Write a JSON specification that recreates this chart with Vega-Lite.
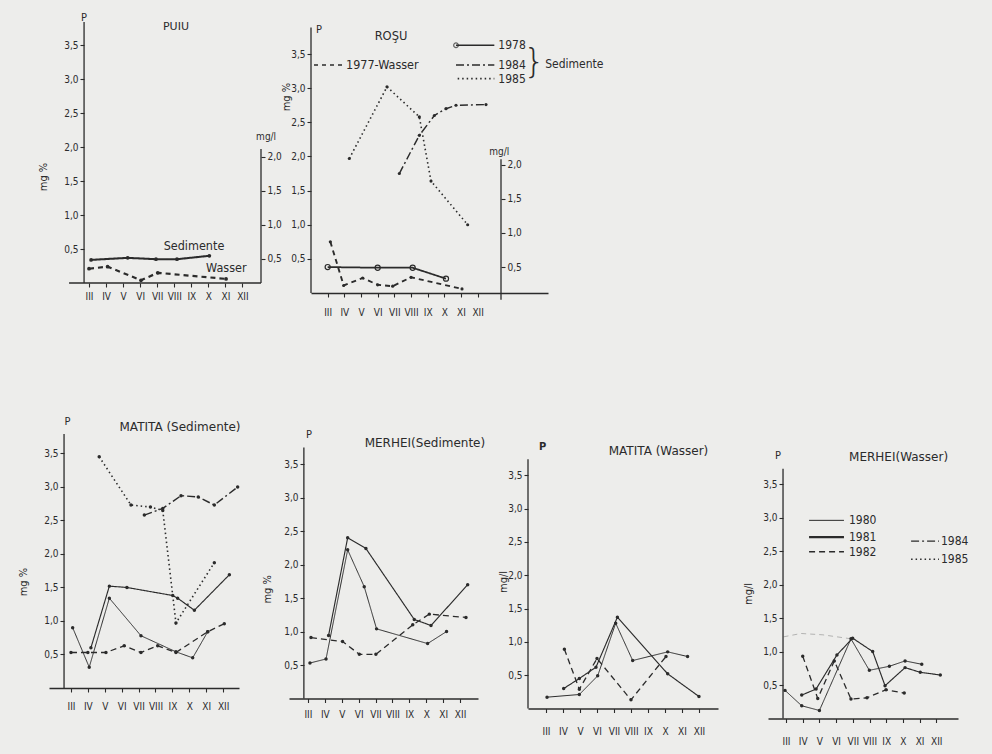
{
"$schema": "https://vega.github.io/schema/vega-lite/v6.json",
"background": "#ededeb",
"padding": {"left": 17, "top": 11, "right": 24, "bottom": 10},
"datasets": {
"puiu": [
{"series":"Sedimente","m":3.12,"v":0.34},{"series":"Sedimente","m":5.27,"v":0.37},{"series":"Sedimente","m":6.93,"v":0.35},{"series":"Sedimente","m":8.16,"v":0.35},{"series":"Sedimente","m":10.06,"v":0.40},
{"series":"Wasser","m":3.0,"v":0.21},{"series":"Wasser","m":4.09,"v":0.24},{"series":"Wasser","m":6.05,"v":0.04},{"series":"Wasser","m":7.03,"v":0.15},{"series":"Wasser","m":11.04,"v":0.06}
],
"rosu": [
{"series":"1978","m":3.0,"v":0.38},{"series":"1978","m":6.0,"v":0.37},{"series":"1978","m":8.1,"v":0.37},{"series":"1978","m":10.1,"v":0.21},
{"series":"1977-Wasser","m":3.16,"v":0.75},{"series":"1977-Wasser","m":3.96,"v":0.11},{"series":"1977-Wasser","m":5.1,"v":0.22},{"series":"1977-Wasser","m":6.0,"v":0.12},{"series":"1977-Wasser","m":6.9,"v":0.10},{"series":"1977-Wasser","m":8.0,"v":0.23},{"series":"1977-Wasser","m":11.06,"v":0.06},
{"series":"1985","m":4.3,"v":1.97},{"series":"1985","m":6.56,"v":3.02},{"series":"1985","m":8.5,"v":2.58},{"series":"1985","m":9.2,"v":1.64},{"series":"1985","m":11.4,"v":1.0},
{"series":"1984","m":7.3,"v":1.75},{"series":"1984","m":8.5,"v":2.31},{"series":"1984","m":9.4,"v":2.60},{"series":"1984","m":10.1,"v":2.70},{"series":"1984","m":10.7,"v":2.75},{"series":"1984","m":12.5,"v":2.76}
],
"mat_sed": [
{"series":"1980","m":3.1,"v":0.90},{"series":"1980","m":4.08,"v":0.31},{"series":"1980","m":5.27,"v":1.34},{"series":"1980","m":7.14,"v":0.78},{"series":"1980","m":9.21,"v":0.54},{"series":"1980","m":10.2,"v":0.45},{"series":"1980","m":11.09,"v":0.84},
{"series":"1981","m":4.18,"v":0.60},{"series":"1981","m":5.27,"v":1.52},{"series":"1981","m":6.31,"v":1.50},{"series":"1981","m":9.02,"v":1.38},{"series":"1981","m":9.31,"v":1.34},{"series":"1981","m":10.3,"v":1.16},{"series":"1981","m":12.37,"v":1.69},
{"series":"1982","m":3.0,"v":0.53},{"series":"1982","m":4.0,"v":0.53},{"series":"1982","m":5.07,"v":0.53},{"series":"1982","m":6.15,"v":0.63},{"series":"1982","m":7.14,"v":0.53},{"series":"1982","m":8.13,"v":0.63},{"series":"1982","m":9.21,"v":0.53},{"series":"1982","m":11.09,"v":0.84},{"series":"1982","m":12.07,"v":0.96},
{"series":"1985","m":4.67,"v":3.45},{"series":"1985","m":6.55,"v":2.73},{"series":"1985","m":7.7,"v":2.70},{"series":"1985","m":8.43,"v":2.65},{"series":"1985","m":9.21,"v":0.97},{"series":"1985","m":11.48,"v":1.87},
{"series":"1984","m":7.34,"v":2.58},{"series":"1984","m":8.43,"v":2.68},{"series":"1984","m":9.51,"v":2.87},{"series":"1984","m":10.53,"v":2.85},{"series":"1984","m":11.48,"v":2.73},{"series":"1984","m":12.86,"v":3.0}
],
"mer_sed": [
{"series":"1980","m":3.12,"v":0.53},{"series":"1980","m":4.07,"v":0.59},{"series":"1980","m":5.35,"v":2.22},{"series":"1980","m":6.33,"v":1.67},{"series":"1980","m":7.06,"v":1.04},{"series":"1980","m":10.08,"v":0.82},{"series":"1980","m":11.2,"v":1.0},
{"series":"1981","m":4.22,"v":0.94},{"series":"1981","m":5.35,"v":2.40},{"series":"1981","m":6.43,"v":2.24},{"series":"1981","m":9.29,"v":1.18},{"series":"1981","m":10.28,"v":1.09},{"series":"1981","m":12.45,"v":1.70},
{"series":"1982","m":3.18,"v":0.91},{"series":"1982","m":5.05,"v":0.85},{"series":"1982","m":6.04,"v":0.66},{"series":"1982","m":7.02,"v":0.66},{"series":"1982","m":9.2,"v":1.10},{"series":"1982","m":10.18,"v":1.26},{"series":"1982","m":12.35,"v":1.21}
],
"mat_w": [
{"series":"1980","m":3.06,"v":0.17},{"series":"1980","m":4.96,"v":0.21},{"series":"1980","m":6.04,"v":0.49},{"series":"1980","m":7.1,"v":1.28},{"series":"1980","m":8.1,"v":0.72},{"series":"1980","m":10.16,"v":0.85},{"series":"1980","m":11.33,"v":0.78},
{"series":"1981","m":4.04,"v":0.30},{"series":"1981","m":4.96,"v":0.45},{"series":"1981","m":5.94,"v":0.62},{"series":"1981","m":7.2,"v":1.37},{"series":"1981","m":10.16,"v":0.52},{"series":"1981","m":12.0,"v":0.18},
{"series":"1982","m":4.08,"v":0.89},{"series":"1982","m":4.96,"v":0.29},{"series":"1982","m":6.0,"v":0.75},{"series":"1982","m":8.0,"v":0.13},{"series":"1982","m":10.06,"v":0.78}
],
"mer_w": [
{"series":"1980","m":2.94,"v":0.42},{"series":"1980","m":3.94,"v":0.19},{"series":"1980","m":5.0,"v":0.12},{"series":"1980","m":6.89,"v":1.19},{"series":"1980","m":7.99,"v":0.72},{"series":"1980","m":9.19,"v":0.78},{"series":"1980","m":10.13,"v":0.86},{"series":"1980","m":11.13,"v":0.81},
{"series":"1981","m":3.94,"v":0.35},{"series":"1981","m":4.8,"v":0.44},{"series":"1981","m":6.05,"v":0.95},{"series":"1981","m":6.99,"v":1.20},{"series":"1981","m":8.19,"v":1.0},{"series":"1981","m":8.93,"v":0.49},{"series":"1981","m":10.13,"v":0.76},{"series":"1981","m":11.04,"v":0.69},{"series":"1981","m":12.24,"v":0.65},
{"series":"1982","m":4.0,"v":0.93},{"series":"1982","m":4.9,"v":0.30},{"series":"1982","m":5.89,"v":0.86},{"series":"1982","m":6.89,"v":0.29},{"series":"1982","m":7.85,"v":0.31},{"series":"1982","m":8.99,"v":0.43},{"series":"1982","m":10.08,"v":0.38}
],
"mer_w_faint": [
{"series":"1984","m":2.85,"v":1.22},{"series":"1984","m":3.9,"v":1.27},{"series":"1984","m":5.2,"v":1.25},{"series":"1984","m":6.9,"v":1.19}
]
},
"vconcat": [
{"hconcat": [
{
"width": 212, "height": 261,
"resolve": {"axis": {"x": "independent", "y": "independent"}},
"layer": [
{"data": {"name": "puiu"}, "mark": {"type": "line", "color": "#2b2b2b"},
 "encoding": {
  "x": {"field": "m", "type": "quantitative", "scale": {"domain": [0.653, 13.09], "nice": false, "zero": false},
        "axis": {"values": [3,4,5,6,7,8,9,10,11,12], "labelExpr": "['III','IV','V','VI','VII','VIII','IX','X','XI','XII'][datum.value-3]", "title": null, "grid": false, "domain": false, "tickSize": 4, "labelPadding": 4, "labelFontSize": 10}},
  "y": {"field": "v", "type": "quantitative", "scale": {"domain": [0, 3.84], "nice": false, "zero": false},
        "axis": {"values": [0.5,1,1.5,2,2.5,3,3.5], "labelExpr": "replace(format(datum.value,'.1f'),'.',',')", "title": null, "grid": false, "domain": false, "tickSize": 4, "labelFontSize": 10, "offset": -35}},
  "strokeDash": {"field": "series", "type": "nominal", "legend": null, "scale": {"domain": ["1980","1981","1982","1984","1985","1978","1977-Wasser","Sedimente","Wasser"], "range": [[1,0],[1,0],[6,4],[8,3,2,3],[1.5,3],[1,0],[5,4],[1,0],[5,4]]}},
  "strokeWidth": {"field": "series", "type": "ordinal", "legend": null, "scale": {"domain": ["1980","1981","1982","1984","1985","1978","1977-Wasser","Sedimente","Wasser"], "range": [1,2.2,1.4,1.4,1.8,1.5,1.3,2.2,1.3]}}
 }},
{"data": {"name": "puiu"}, "mark": {"type": "point", "filled": true, "color": "#2b2b2b", "opacity": 1, "size": 14},
 "encoding": {"x": {"field": "m", "type": "quantitative", "axis": null}, "y": {"field": "v", "type": "quantitative", "axis": null}}},
{"data": {"values": [{}]}, "mark": {"type": "rule", "color": "#2b2b2b", "strokeWidth": 1.3},
 "encoding": {"x": {"datum": 2.71, "type": "quantitative", "axis": null}, "y": {"datum": 0, "type": "quantitative", "axis": null}, "y2": {"datum": 3.84}}},
{"data": {"values": [{}]}, "mark": {"type": "rule", "color": "#2b2b2b", "strokeWidth": 1.3},
 "encoding": {"x": {"datum": 1.83, "type": "quantitative", "axis": null}, "x2": {"datum": 13.09}, "y": {"datum": 0, "type": "quantitative", "axis": null}}},
{"data": {"values": [{}]}, "mark": {"type": "rule", "color": "#2b2b2b", "strokeWidth": 1.3},
 "encoding": {"x": {"datum": 13.09, "type": "quantitative", "axis": null},
  "y": {"datum": 0, "type": "quantitative", "axis": {"orient": "right", "values": [0.36,0.86,1.36,1.86], "labelExpr": "replace(format(datum.value+0.14,'.1f'),'.',',')", "title": null, "grid": false, "domain": false, "tickSize": 4, "labelFontSize": 10}},
  "y2": {"datum": 1.97}}},
{"data": {"values": [{}]}, "mark": {"type": "text", "text": "P", "fontSize": 11},
 "encoding": {"x": {"datum": 2.71, "type": "quantitative", "axis": null}, "y": {"datum": 3.9, "type": "quantitative", "axis": null}}},
{"data": {"values": [{}]}, "mark": {"type": "text", "text": "PUIU", "fontSize": 11, "font": "DejaVu Sans"},
 "encoding": {"x": {"datum": 8.1, "type": "quantitative", "axis": null}, "y": {"datum": 3.76, "type": "quantitative", "axis": null}}},
{"data": {"values": [{}]}, "mark": {"type": "text", "text": "mg %", "fontSize": 11, "angle": 270},
 "encoding": {"x": {"datum": 0.36, "type": "quantitative", "axis": null}, "y": {"datum": 1.56, "type": "quantitative", "axis": null}}},
{"data": {"values": [{}]}, "mark": {"type": "text", "text": "mg/l", "fontSize": 10},
 "encoding": {"x": {"datum": 13.39, "type": "quantitative", "axis": null}, "y": {"datum": 2.15, "type": "quantitative", "axis": null}}},
{"data": {"values": [{}]}, "mark": {"type": "text", "text": "Sedimente", "fontSize": 12.5, "align": "left"},
 "encoding": {"x": {"datum": 7.38, "type": "quantitative", "axis": null}, "y": {"datum": 0.55, "type": "quantitative", "axis": null}}},
{"data": {"values": [{}]}, "mark": {"type": "text", "text": "Wasser", "fontSize": 12.5, "align": "left"},
 "encoding": {"x": {"datum": 9.87, "type": "quantitative", "axis": null}, "y": {"datum": 0.22, "type": "quantitative", "axis": null}}}
]
},
{
"width": 237, "height": 271,
"resolve": {"axis": {"x": "independent", "y": "independent"}},
"layer": [
{"data": {"name": "rosu"}, "mark": {"type": "line", "color": "#2b2b2b"},
 "encoding": {
  "x": {"field": "m", "type": "quantitative", "scale": {"domain": [2.0, 16.22], "nice": false, "zero": false},
        "axis": {"values": [3,4,5,6,7,8,9,10,11,12], "labelExpr": "['III','IV','V','VI','VII','VIII','IX','X','XI','XII'][datum.value-3]", "title": null, "grid": false, "tickSize": 4, "labelPadding": 10, "labelFontSize": 10}},
  "y": {"field": "v", "type": "quantitative", "scale": {"domain": [0, 3.97], "nice": false, "zero": false},
        "axis": {"values": [0.5,1,1.5,2,2.5,3,3.5], "labelExpr": "replace(format(datum.value,'.1f'),'.',',')", "title": null, "grid": false, "domain": false, "tickSize": 4, "labelFontSize": 10}},
  "strokeDash": {"field": "series", "type": "nominal", "legend": null, "scale": {"domain": ["1980","1981","1982","1984","1985","1978","1977-Wasser","Sedimente","Wasser"], "range": [[1,0],[1,0],[6,4],[8,3,2,3],[1.5,3],[1,0],[5,4],[1,0],[5,4]]}},
  "strokeWidth": {"field": "series", "type": "ordinal", "legend": null, "scale": {"domain": ["1980","1981","1982","1984","1985","1978","1977-Wasser","Sedimente","Wasser"], "range": [1,2.2,1.4,1.4,1.8,1.5,1.3,2.2,1.3]}}
 }},
{"data": {"name": "rosu"}, "transform": [{"filter": "datum.series !== '1978'"}], "mark": {"type": "point", "filled": true, "color": "#2b2b2b", "opacity": 1, "size": 10},
 "encoding": {"x": {"field": "m", "type": "quantitative", "axis": null}, "y": {"field": "v", "type": "quantitative", "axis": null}}},
{"data": {"name": "rosu"}, "transform": [{"filter": "datum.series === '1978'"}], "mark": {"type": "point", "filled": false, "color": "#2b2b2b", "opacity": 1, "size": 26, "strokeWidth": 1.2},
 "encoding": {"x": {"field": "m", "type": "quantitative", "axis": null}, "y": {"field": "v", "type": "quantitative", "axis": null}}},
{"data": {"values": [{}]}, "mark": {"type": "rule", "color": "#2b2b2b", "strokeWidth": 1.3},
 "encoding": {"x": {"datum": 2.0, "type": "quantitative", "axis": null}, "y": {"datum": 0, "type": "quantitative", "axis": null}, "y2": {"datum": 3.89}}},
{"data": {"values": [{}]}, "mark": {"type": "rule", "color": "#2b2b2b", "strokeWidth": 1.3},
 "encoding": {"x": {"datum": 13.4, "type": "quantitative", "axis": null},
  "y": {"datum": -0.1, "type": "quantitative", "axis": {"orient": "right", "offset": -47, "values": [0.38,0.88,1.38,1.88], "labelExpr": "replace(format(datum.value+0.12,'.1f'),'.',',')", "title": null, "grid": false, "domain": false, "tickSize": 4, "labelFontSize": 10}},
  "y2": {"datum": 1.96}}},
{"data": {"values": [{}]}, "mark": {"type": "text", "text": "P", "fontSize": 11},
 "encoding": {"x": {"datum": 2.48, "type": "quantitative", "axis": null}, "y": {"datum": 3.85, "type": "quantitative", "axis": null}}},
{"data": {"values": [{}]}, "mark": {"type": "text", "text": "ROŞU", "fontSize": 11.5, "font": "DejaVu Sans"},
 "encoding": {"x": {"datum": 6.8, "type": "quantitative", "axis": null}, "y": {"datum": 3.75, "type": "quantitative", "axis": null}}},
{"data": {"values": [{}]}, "mark": {"type": "text", "text": "mg %", "fontSize": 11, "angle": 270},
 "encoding": {"x": {"datum": 0.55, "type": "quantitative", "axis": null}, "y": {"datum": 2.87, "type": "quantitative", "axis": null}}},
{"data": {"values": [{}]}, "mark": {"type": "text", "text": "mg/l", "fontSize": 10},
 "encoding": {"x": {"datum": 13.3, "type": "quantitative", "axis": null}, "y": {"datum": 2.06, "type": "quantitative", "axis": null}}},
{"data": {"values": [{}]}, "mark": {"type": "rule", "color": "#2b2b2b", "strokeWidth": 1.5},
 "encoding": {"x": {"datum": 10.7, "type": "quantitative", "axis": null}, "x2": {"datum": 13.0}, "y": {"datum": 3.63, "type": "quantitative", "axis": null}}},
{"data": {"values": [{}]}, "mark": {"type": "point", "filled": false, "color": "#2b2b2b", "size": 22, "strokeWidth": 1.2},
 "encoding": {"x": {"datum": 10.7, "type": "quantitative", "axis": null}, "y": {"datum": 3.63, "type": "quantitative", "axis": null}}},
{"data": {"values": [{}]}, "mark": {"type": "rule", "color": "#2b2b2b", "strokeWidth": 1.4, "strokeDash": [8,3,2,3]},
 "encoding": {"x": {"datum": 10.7, "type": "quantitative", "axis": null}, "x2": {"datum": 13.0}, "y": {"datum": 3.34, "type": "quantitative", "axis": null}}},
{"data": {"values": [{}]}, "mark": {"type": "rule", "color": "#2b2b2b", "strokeWidth": 1.6, "strokeDash": [1.5,3]},
 "encoding": {"x": {"datum": 10.8, "type": "quantitative", "axis": null}, "x2": {"datum": 13.0}, "y": {"datum": 3.14, "type": "quantitative", "axis": null}}},
{"data": {"values": [{}]}, "mark": {"type": "text", "text": "1978", "fontSize": 12, "align": "left"},
 "encoding": {"x": {"datum": 13.24, "type": "quantitative", "axis": null}, "y": {"datum": 3.63, "type": "quantitative", "axis": null}}},
{"data": {"values": [{}]}, "mark": {"type": "text", "text": "1984", "fontSize": 12, "align": "left"},
 "encoding": {"x": {"datum": 13.24, "type": "quantitative", "axis": null}, "y": {"datum": 3.34, "type": "quantitative", "axis": null}}},
{"data": {"values": [{}]}, "mark": {"type": "text", "text": "1985", "fontSize": 12, "align": "left"},
 "encoding": {"x": {"datum": 13.24, "type": "quantitative", "axis": null}, "y": {"datum": 3.14, "type": "quantitative", "axis": null}}},
{"data": {"values": [{}]}, "mark": {"type": "text", "text": "}", "fontSize": 34, "align": "left", "font": "DejaVu Sans", "fontWeight": 200},
 "encoding": {"x": {"datum": 14.75, "type": "quantitative", "axis": null}, "y": {"datum": 3.37, "type": "quantitative", "axis": null}}},
{"data": {"values": [{}]}, "mark": {"type": "text", "text": "Sedimente", "fontSize": 12, "align": "left"},
 "encoding": {"x": {"datum": 16.05, "type": "quantitative", "axis": null}, "y": {"datum": 3.35, "type": "quantitative", "axis": null}}},
{"data": {"values": [{}]}, "mark": {"type": "rule", "color": "#2b2b2b", "strokeWidth": 1.3, "strokeDash": [4,4]},
 "encoding": {"x": {"datum": 2.18, "type": "quantitative", "axis": null}, "x2": {"datum": 4.0}, "y": {"datum": 3.34, "type": "quantitative", "axis": null}}},
{"data": {"values": [{}]}, "mark": {"type": "text", "text": "1977-Wasser", "fontSize": 12.5, "align": "left"},
 "encoding": {"x": {"datum": 4.1, "type": "quantitative", "axis": null}, "y": {"datum": 3.34, "type": "quantitative", "axis": null}}}
]
}
], "spacing": 50, "bounds": "flush"},
{"hconcat": [
{
"width": 190, "height": 254,
"resolve": {"axis": {"x": "independent", "y": "independent"}},
"layer": [
{"data": {"name": "mat_sed"}, "mark": {"type": "line", "color": "#2b2b2b"},
 "encoding": {
  "x": {"field": "m", "type": "quantitative", "scale": {"domain": [1.70, 12.94], "nice": false, "zero": false},
        "axis": {"values": [3,4,5,6,7,8,9,10,11,12], "labelExpr": "['III','IV','V','VI','VII','VIII','IX','X','XI','XII'][datum.value-3]", "title": null, "grid": false, "tickSize": 4, "labelPadding": 9, "labelFontSize": 10}},
  "y": {"field": "v", "type": "quantitative", "scale": {"domain": [0, 3.79], "nice": false, "zero": false},
        "axis": {"values": [0.5,1,1.5,2,2.5,3,3.5], "labelExpr": "replace(format(datum.value,'.1f'),'.',',')", "title": null, "grid": false, "domain": false, "tickSize": 4, "labelFontSize": 10, "offset": -15}},
  "strokeDash": {"field": "series", "type": "nominal", "legend": null, "scale": {"domain": ["1980","1981","1982","1984","1985","1978","1977-Wasser","Sedimente","Wasser"], "range": [[1,0],[1,0],[6,4],[8,3,2,3],[1.5,3],[1,0],[5,4],[1,0],[5,4]]}},
  "strokeWidth": {"field": "series", "type": "ordinal", "legend": null, "scale": {"domain": ["1980","1981","1982","1984","1985","1978","1977-Wasser","Sedimente","Wasser"], "range": [1,2.2,1.4,1.4,1.8,1.5,1.3,2.2,1.3]}}
 }},
{"data": {"name": "mat_sed"}, "mark": {"type": "point", "filled": true, "color": "#2b2b2b", "opacity": 1, "size": 12},
 "encoding": {"x": {"field": "m", "type": "quantitative", "axis": null}, "y": {"field": "v", "type": "quantitative", "axis": null}}},
{"data": {"values": [{}]}, "mark": {"type": "rule", "color": "#2b2b2b", "strokeWidth": 1.3},
 "encoding": {"x": {"datum": 2.59, "type": "quantitative", "axis": null}, "y": {"datum": 0, "type": "quantitative", "axis": null}, "y2": {"datum": 3.79}}},
{"data": {"values": [{}]}, "mark": {"type": "text", "text": "P", "fontSize": 11},
 "encoding": {"x": {"datum": 2.8, "type": "quantitative", "axis": null}, "y": {"datum": 3.97, "type": "quantitative", "axis": null}}},
{"data": {"values": [{}]}, "mark": {"type": "text", "text": "MATITA (Sedimente)", "fontSize": 12, "font": "DejaVu Sans"},
 "encoding": {"x": {"datum": 9.45, "type": "quantitative", "axis": null}, "y": {"datum": 3.9, "type": "quantitative", "axis": null}}},
{"data": {"values": [{}]}, "mark": {"type": "text", "text": "mg %", "fontSize": 11, "angle": 270},
 "encoding": {"x": {"datum": 0.22, "type": "quantitative", "axis": null}, "y": {"datum": 1.58, "type": "quantitative", "axis": null}}}
]
},
{
"width": 189, "height": 264.5,
"resolve": {"axis": {"x": "independent", "y": "independent"}},
"layer": [
{"data": {"name": "mer_sed"}, "mark": {"type": "line", "color": "#2b2b2b"},
 "encoding": {
  "x": {"field": "m", "type": "quantitative", "scale": {"domain": [1.88, 13.06], "nice": false, "zero": false},
        "axis": {"values": [3,4,5,6,7,8,9,10,11,12], "labelExpr": "['III','IV','V','VI','VII','VIII','IX','X','XI','XII'][datum.value-3]", "title": null, "grid": false, "tickSize": 4, "labelPadding": 7, "labelFontSize": 10}},
  "y": {"field": "v", "type": "quantitative", "scale": {"domain": [0, 3.95], "nice": false, "zero": false},
        "axis": {"values": [0.5,1,1.5,2,2.5,3,3.5], "labelExpr": "replace(format(datum.value,'.1f'),'.',',')", "title": null, "grid": false, "domain": false, "tickSize": 4, "labelFontSize": 10, "offset": -15}},
  "strokeDash": {"field": "series", "type": "nominal", "legend": null, "scale": {"domain": ["1980","1981","1982","1984","1985","1978","1977-Wasser","Sedimente","Wasser"], "range": [[1,0],[1,0],[6,4],[8,3,2,3],[1.5,3],[1,0],[5,4],[1,0],[5,4]]}},
  "strokeWidth": {"field": "series", "type": "ordinal", "legend": null, "scale": {"domain": ["1980","1981","1982","1984","1985","1978","1977-Wasser","Sedimente","Wasser"], "range": [1,2.2,1.4,1.4,1.8,1.5,1.3,2.2,1.3]}}
 }},
{"data": {"name": "mer_sed"}, "mark": {"type": "point", "filled": true, "color": "#2b2b2b", "opacity": 1, "size": 12},
 "encoding": {"x": {"field": "m", "type": "quantitative", "axis": null}, "y": {"field": "v", "type": "quantitative", "axis": null}}},
{"data": {"values": [{}]}, "mark": {"type": "rule", "color": "#2b2b2b", "strokeWidth": 1.3},
 "encoding": {"x": {"datum": 2.76, "type": "quantitative", "axis": null}, "y": {"datum": 0, "type": "quantitative", "axis": null}, "y2": {"datum": 3.75}}},
{"data": {"values": [{}]}, "mark": {"type": "text", "text": "P", "fontSize": 11},
 "encoding": {"x": {"datum": 3.06, "type": "quantitative", "axis": null}, "y": {"datum": 3.93, "type": "quantitative", "axis": null}}},
{"data": {"values": [{}]}, "mark": {"type": "text", "text": "MERHEI(Sedimente)", "fontSize": 12, "font": "DejaVu Sans"},
 "encoding": {"x": {"datum": 9.92, "type": "quantitative", "axis": null}, "y": {"datum": 3.81, "type": "quantitative", "axis": null}}},
{"data": {"values": [{}]}, "mark": {"type": "text", "text": "mg %", "fontSize": 11, "angle": 270},
 "encoding": {"x": {"datum": 0.62, "type": "quantitative", "axis": null}, "y": {"datum": 1.63, "type": "quantitative", "axis": null}}}
]
},
{
"width": 190, "height": 274.5,
"resolve": {"axis": {"x": "independent", "y": "independent"}},
"layer": [
{"data": {"name": "mat_w"}, "mark": {"type": "line", "color": "#2b2b2b"},
 "encoding": {
  "x": {"field": "m", "type": "quantitative", "scale": {"domain": [1.94, 13.12], "nice": false, "zero": false},
        "axis": {"values": [3,4,5,6,7,8,9,10,11,12], "labelExpr": "['III','IV','V','VI','VII','VIII','IX','X','XI','XII'][datum.value-3]", "title": null, "grid": false, "tickSize": 4, "labelPadding": 14, "labelFontSize": 10}},
  "y": {"field": "v", "type": "quantitative", "scale": {"domain": [0, 4.12], "nice": false, "zero": false},
        "axis": {"values": [0.5,1,1.5,2,2.5,3,3.5], "labelExpr": "replace(format(datum.value,'.1f'),'.',',')", "title": null, "grid": false, "domain": false, "tickSize": 4, "labelFontSize": 10}},
  "strokeDash": {"field": "series", "type": "nominal", "legend": null, "scale": {"domain": ["1980","1981","1982","1984","1985","1978","1977-Wasser","Sedimente","Wasser"], "range": [[1,0],[1,0],[6,4],[8,3,2,3],[1.5,3],[1,0],[5,4],[1,0],[5,4]]}},
  "strokeWidth": {"field": "series", "type": "ordinal", "legend": null, "scale": {"domain": ["1980","1981","1982","1984","1985","1978","1977-Wasser","Sedimente","Wasser"], "range": [1,2.2,1.4,1.4,1.8,1.5,1.3,2.2,1.3]}}
 }},
{"data": {"name": "mat_w"}, "mark": {"type": "point", "filled": true, "color": "#2b2b2b", "opacity": 1, "size": 12},
 "encoding": {"x": {"field": "m", "type": "quantitative", "axis": null}, "y": {"field": "v", "type": "quantitative", "axis": null}}},
{"data": {"values": [{}]}, "mark": {"type": "rule", "color": "#2b2b2b", "strokeWidth": 1.3},
 "encoding": {"x": {"datum": 1.94, "type": "quantitative", "axis": null}, "y": {"datum": 0, "type": "quantitative", "axis": null}, "y2": {"datum": 3.74}}},
{"data": {"values": [{}]}, "mark": {"type": "text", "text": "P", "fontSize": 11, "fontWeight": "bold"},
 "encoding": {"x": {"datum": 2.8, "type": "quantitative", "axis": null}, "y": {"datum": 3.92, "type": "quantitative", "axis": null}}},
{"data": {"values": [{}]}, "mark": {"type": "text", "text": "MATITA (Wasser)", "fontSize": 12, "font": "DejaVu Sans"},
 "encoding": {"x": {"datum": 9.62, "type": "quantitative", "axis": null}, "y": {"datum": 3.87, "type": "quantitative", "axis": null}}},
{"data": {"values": [{}]}, "mark": {"type": "text", "text": "mg/l", "fontSize": 11, "angle": 270},
 "encoding": {"x": {"datum": 0.53, "type": "quantitative", "axis": null}, "y": {"datum": 1.9, "type": "quantitative", "axis": null}}}
]
},
{
"width": 190, "height": 284.5,
"resolve": {"axis": {"x": "independent", "y": "independent"}},
"layer": [
{"data": {"name": "mer_w"}, "mark": {"type": "line", "color": "#2b2b2b"},
 "encoding": {
  "x": {"field": "m", "type": "quantitative", "scale": {"domain": [1.92, 13.30], "nice": false, "zero": false},
        "axis": {"values": [3,4,5,6,7,8,9,10,11,12], "labelExpr": "['III','IV','V','VI','VII','VIII','IX','X','XI','XII'][datum.value-3]", "title": null, "grid": false, "tickSize": 4, "labelPadding": 14, "labelFontSize": 10}},
  "y": {"field": "v", "type": "quantitative", "scale": {"domain": [0, 4.25], "nice": false, "zero": false},
        "axis": {"values": [0.5,1,1.5,2,2.5,3,3.5], "labelExpr": "replace(format(datum.value,'.1f'),'.',',')", "title": null, "grid": false, "domain": false, "tickSize": 4, "labelFontSize": 10, "offset": -15}},
  "strokeDash": {"field": "series", "type": "nominal", "legend": null, "scale": {"domain": ["1980","1981","1982","1984","1985","1978","1977-Wasser","Sedimente","Wasser"], "range": [[1,0],[1,0],[6,4],[8,3,2,3],[1.5,3],[1,0],[5,4],[1,0],[5,4]]}},
  "strokeWidth": {"field": "series", "type": "ordinal", "legend": null, "scale": {"domain": ["1980","1981","1982","1984","1985","1978","1977-Wasser","Sedimente","Wasser"], "range": [1,2.2,1.4,1.4,1.8,1.5,1.3,2.2,1.3]}}
 }},
{"data": {"name": "mer_w"}, "mark": {"type": "point", "filled": true, "color": "#2b2b2b", "opacity": 1, "size": 12},
 "encoding": {"x": {"field": "m", "type": "quantitative", "axis": null}, "y": {"field": "v", "type": "quantitative", "axis": null}}},
{"data": {"name": "mer_w_faint"}, "mark": {"type": "line", "color": "#2b2b2b", "opacity": 0.3, "strokeWidth": 1, "strokeDash": [5,4]},
 "encoding": {"x": {"field": "m", "type": "quantitative", "axis": null}, "y": {"field": "v", "type": "quantitative", "axis": null}}},
{"data": {"values": [{}]}, "mark": {"type": "rule", "color": "#2b2b2b", "strokeWidth": 1.3},
 "encoding": {"x": {"datum": 2.82, "type": "quantitative", "axis": null}, "y": {"datum": 0, "type": "quantitative", "axis": null}, "y2": {"datum": 3.73}}},
{"data": {"values": [{}]}, "mark": {"type": "text", "text": "P", "fontSize": 11},
 "encoding": {"x": {"datum": 2.52, "type": "quantitative", "axis": null}, "y": {"datum": 3.92, "type": "quantitative", "axis": null}}},
{"data": {"values": [{}]}, "mark": {"type": "text", "text": "MERHEI(Wasser)", "fontSize": 12, "font": "DejaVu Sans"},
 "encoding": {"x": {"datum": 9.74, "type": "quantitative", "axis": null}, "y": {"datum": 3.9, "type": "quantitative", "axis": null}}},
{"data": {"values": [{}]}, "mark": {"type": "text", "text": "mg/l", "fontSize": 11, "angle": 270},
 "encoding": {"x": {"datum": 0.78, "type": "quantitative", "axis": null}, "y": {"datum": 1.86, "type": "quantitative", "axis": null}}},
{"data": {"values": [{}]}, "mark": {"type": "rule", "color": "#2b2b2b", "strokeWidth": 1},
 "encoding": {"x": {"datum": 4.38, "type": "quantitative", "axis": null}, "x2": {"datum": 6.47}, "y": {"datum": 2.96, "type": "quantitative", "axis": null}}},
{"data": {"values": [{}]}, "mark": {"type": "rule", "color": "#2b2b2b", "strokeWidth": 2.2},
 "encoding": {"x": {"datum": 4.38, "type": "quantitative", "axis": null}, "x2": {"datum": 6.47}, "y": {"datum": 2.71, "type": "quantitative", "axis": null}}},
{"data": {"values": [{}]}, "mark": {"type": "rule", "color": "#2b2b2b", "strokeWidth": 1.4, "strokeDash": [6,4]},
 "encoding": {"x": {"datum": 4.38, "type": "quantitative", "axis": null}, "x2": {"datum": 6.47}, "y": {"datum": 2.49, "type": "quantitative", "axis": null}}},
{"data": {"values": [{}]}, "mark": {"type": "rule", "color": "#2b2b2b", "strokeWidth": 1.4, "strokeDash": [8,3,2,3]},
 "encoding": {"x": {"datum": 10.49, "type": "quantitative", "axis": null}, "x2": {"datum": 12.16}, "y": {"datum": 2.65, "type": "quantitative", "axis": null}}},
{"data": {"values": [{}]}, "mark": {"type": "rule", "color": "#2b2b2b", "strokeWidth": 1.6, "strokeDash": [1.5,3]},
 "encoding": {"x": {"datum": 10.49, "type": "quantitative", "axis": null}, "x2": {"datum": 12.16}, "y": {"datum": 2.38, "type": "quantitative", "axis": null}}},
{"data": {"values": [{}]}, "mark": {"type": "text", "text": "1980", "fontSize": 12, "align": "left"},
 "encoding": {"x": {"datum": 6.77, "type": "quantitative", "axis": null}, "y": {"datum": 2.96, "type": "quantitative", "axis": null}}},
{"data": {"values": [{}]}, "mark": {"type": "text", "text": "1981", "fontSize": 12, "align": "left"},
 "encoding": {"x": {"datum": 6.77, "type": "quantitative", "axis": null}, "y": {"datum": 2.71, "type": "quantitative", "axis": null}}},
{"data": {"values": [{}]}, "mark": {"type": "text", "text": "1982", "fontSize": 12, "align": "left"},
 "encoding": {"x": {"datum": 6.77, "type": "quantitative", "axis": null}, "y": {"datum": 2.49, "type": "quantitative", "axis": null}}},
{"data": {"values": [{}]}, "mark": {"type": "text", "text": "1984", "fontSize": 12, "align": "left"},
 "encoding": {"x": {"datum": 12.28, "type": "quantitative", "axis": null}, "y": {"datum": 2.65, "type": "quantitative", "axis": null}}},
{"data": {"values": [{}]}, "mark": {"type": "text", "text": "1985", "fontSize": 12, "align": "left"},
 "encoding": {"x": {"datum": 12.28, "type": "quantitative", "axis": null}, "y": {"datum": 2.38, "type": "quantitative", "axis": null}}}
]
}
], "spacing": 50, "bounds": "flush"}
],
"spacing": 98,
"config": {
 "view": {"stroke": null},
 "font": "DejaVu Sans Condensed, Liberation Sans Narrow, DejaVu Sans",
 "axis": {"labelFont": "DejaVu Sans Condensed, Liberation Sans Narrow, DejaVu Sans", "labelColor": "#2b2b2b", "tickColor": "#2b2b2b", "domainColor": "#2b2b2b", "domainWidth": 1.3, "tickWidth": 1.1, "labelOverlap": false, "labelFlush": false},
 "text": {"font": "DejaVu Sans Condensed, Liberation Sans Narrow, DejaVu Sans", "color": "#2b2b2b", "baseline": "middle"}
}
}
